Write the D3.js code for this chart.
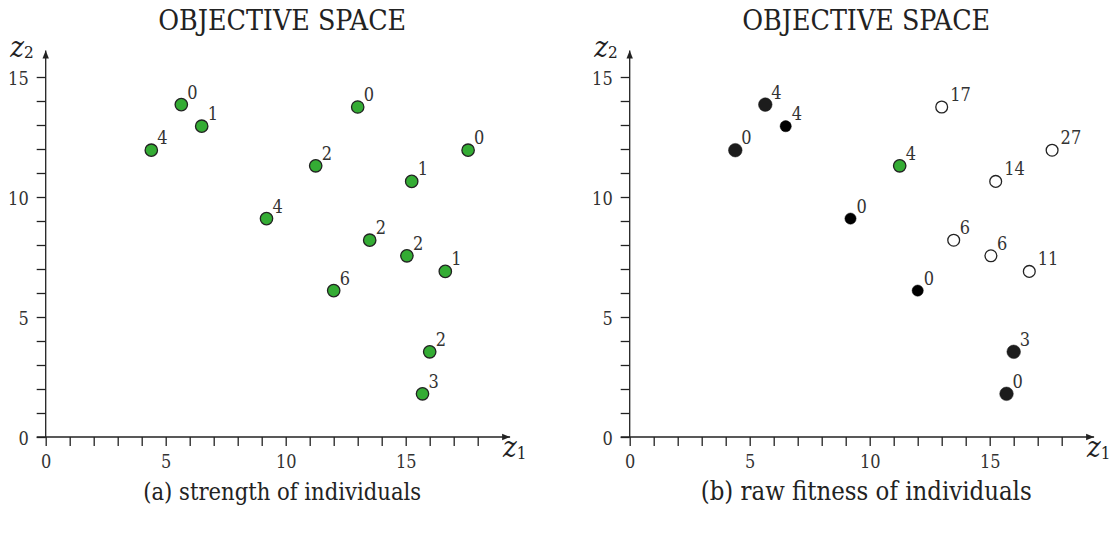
<!DOCTYPE html>
<html><head><meta charset="utf-8">
<script src="https://cdn.jsdelivr.net/npm/d3@7"></script>
<style>body{margin:0;background:#fff}svg{display:block}</style>
</head><body>
<svg id="c" width="1118" height="536"></svg>
<script>
// ---- data ----
const z1 = [5.65, 6.5, 4.4, 9.2, 13.0, 11.25, 17.6, 15.25, 13.5, 15.05, 16.65, 12.0, 16.0, 15.7];
const z2 = [13.85, 12.95, 11.95, 9.1, 13.75, 11.3, 11.95, 10.65, 8.2, 7.55, 6.9, 6.1, 3.55, 1.8];
const strength = [0, 1, 4, 4, 0, 2, 0, 1, 2, 2, 1, 6, 2, 3];
const rawFitness = [4, 4, 0, 0, 17, 4, 27, 14, 6, 6, 11, 0, 3, 0];
const markerB = ["bigBlack","black","bigBlack","black","open","green","open","open","open","open","open","black","bigBlack","bigBlack"];
const xTicks = d3.range(0, 19);
const yTicks = d3.range(0, 16);
const majorTicks = [0, 5, 10, 15];
const titles = ["OBJECTIVE SPACE", "OBJECTIVE SPACE"];
const captions = ["(a) strength of individuals", "(b) raw fitness of individuals"];

// ---- drawing ----
const svg = d3.select("#c");
const ink = "#222";
const serif = "'DejaVu Serif Condensed', 'DejaVu Serif', serif";
const unit = 24, x0s = [45.7, 629.7], yBase = 437;
const xMax = 19.35, yMax = 16.1;

const defs = svg.append("defs");
defs.append("marker").attr("id","arr").attr("viewBox","0 0 10 10")
  .attr("refX",10).attr("refY",5).attr("markerWidth",10).attr("markerHeight",8)
  .attr("markerUnits","userSpaceOnUse").attr("orient","auto")
  .append("path").attr("d","M0,1 L10,5 L0,9 Z").attr("fill",ink);

const styles = {
  green:   {r: 6.2, fill: "#34ac34", stroke: ink, sw: 1.3},
  open:    {r: 5.9, fill: "#fff", stroke: ink, sw: 1.3},
  black:   {r: 5.6, fill: "#000", stroke: "#000", sw: 0.5},
  bigBlack:{r: 6.8, fill: "#1c1c1c", stroke: "#1c1c1c", sw: 0.5}
};

function fit(sel, target) {
  const w = sel.node().getComputedTextLength();
  const fs = parseFloat(sel.style("font-size"));
  sel.style("font-size", (fs * target / w) + "px");
}

[0, 1].forEach(p => {
  const x = d3.scaleLinear().domain([0, xMax]).range([x0s[p], x0s[p] + xMax * unit]);
  const y = d3.scaleLinear().domain([0, yMax]).range([yBase, yBase - yMax * unit]);
  const g = svg.append("g");

  // axes
  const ax = g.append("g").attr("transform", `translate(0,${y(0)})`)
    .call(d3.axisBottom(x).tickValues(xTicks).tickSize(9).tickPadding(9)
      .tickFormat(d => majorTicks.includes(d) ? d : ""));
  const ay = g.append("g").attr("transform", `translate(${x(0)},0)`)
    .call(d3.axisLeft(y).tickValues(yTicks).tickSize(9).tickPadding(8)
      .tickFormat(d => majorTicks.includes(d) ? d : ""));
  [ax, ay].forEach(a => {
    a.select(".domain").remove();
    a.selectAll("line").attr("stroke", ink).attr("stroke-width", 1.3);
    a.selectAll("text").attr("fill", "#333").style("font-family", serif).style("font-size", "18px");
  });
  ay.selectAll("text").attr("dy", "0.42em");
  // axis lines with arrows
  g.append("line").attr("x1", x(0) - 9).attr("x2", x(xMax)).attr("y1", y(0)).attr("y2", y(0))
    .attr("stroke", ink).attr("stroke-width", 1.3).attr("marker-end", "url(#arr)");
  g.append("line").attr("x1", x(0)).attr("x2", x(0)).attr("y1", y(0)).attr("y2", y(yMax))
    .attr("stroke", ink).attr("stroke-width", 1.3).attr("marker-end", "url(#arr)");

  // axis titles
  const t2 = g.append("text").attr("x", x(0) - 35.5).attr("y", y(yMax) + 6.5)
    .attr("fill", ink).style("font-family", serif);
  t2.append("tspan").text("z").style("font-style", "italic").style("font-size", "29px");
  t2.append("tspan").text("2").attr("dy", 1).style("font-size", "17px");
  const t1 = g.append("text").attr("x", x(xMax) - 7).attr("y", y(0) + 20)
    .attr("fill", ink).style("font-family", serif);
  t1.append("tspan").text("z").style("font-style", "italic").style("font-size", "29px");
  t1.append("tspan").text("1").attr("dy", 2).style("font-size", "17px");

  // title & caption
  const cx = x0s[p] + 236.5;
  const tt = g.append("text").attr("x", cx).attr("y", 30).attr("text-anchor", "middle")
    .attr("fill", ink).style("font-family", serif).style("font-size", "26px").text(titles[p]);
  fit(tt, 248);
  const cap = g.append("text").attr("x", cx).attr("y", 500).attr("text-anchor", "middle")
    .attr("fill", ink).style("font-family", serif).style("font-size", "25px").text(captions[p]);
  fit(cap, p === 0 ? 278 : 331);

  // points
  const labels = p === 0 ? strength : rawFitness;
  const idx = d3.range(z1.length);
  idx.forEach(i => {
    const s = p === 0 ? styles.green : styles[markerB[i]];
    g.append("circle").attr("cx", x(z1[i])).attr("cy", y(z2[i])).attr("r", s.r)
      .attr("fill", s.fill).attr("stroke", s.stroke).attr("stroke-width", s.sw);
    const lab = String(labels[i]);
    g.append("text").attr("x", x(z1[i]) + (lab.length > 1 ? 8.5 : 6)).attr("y", y(z2[i]) - 6)
      .attr("fill", "#333").style("font-family", serif).style("font-size", "18px").text(lab);
  });
});
</script>
</body></html>
